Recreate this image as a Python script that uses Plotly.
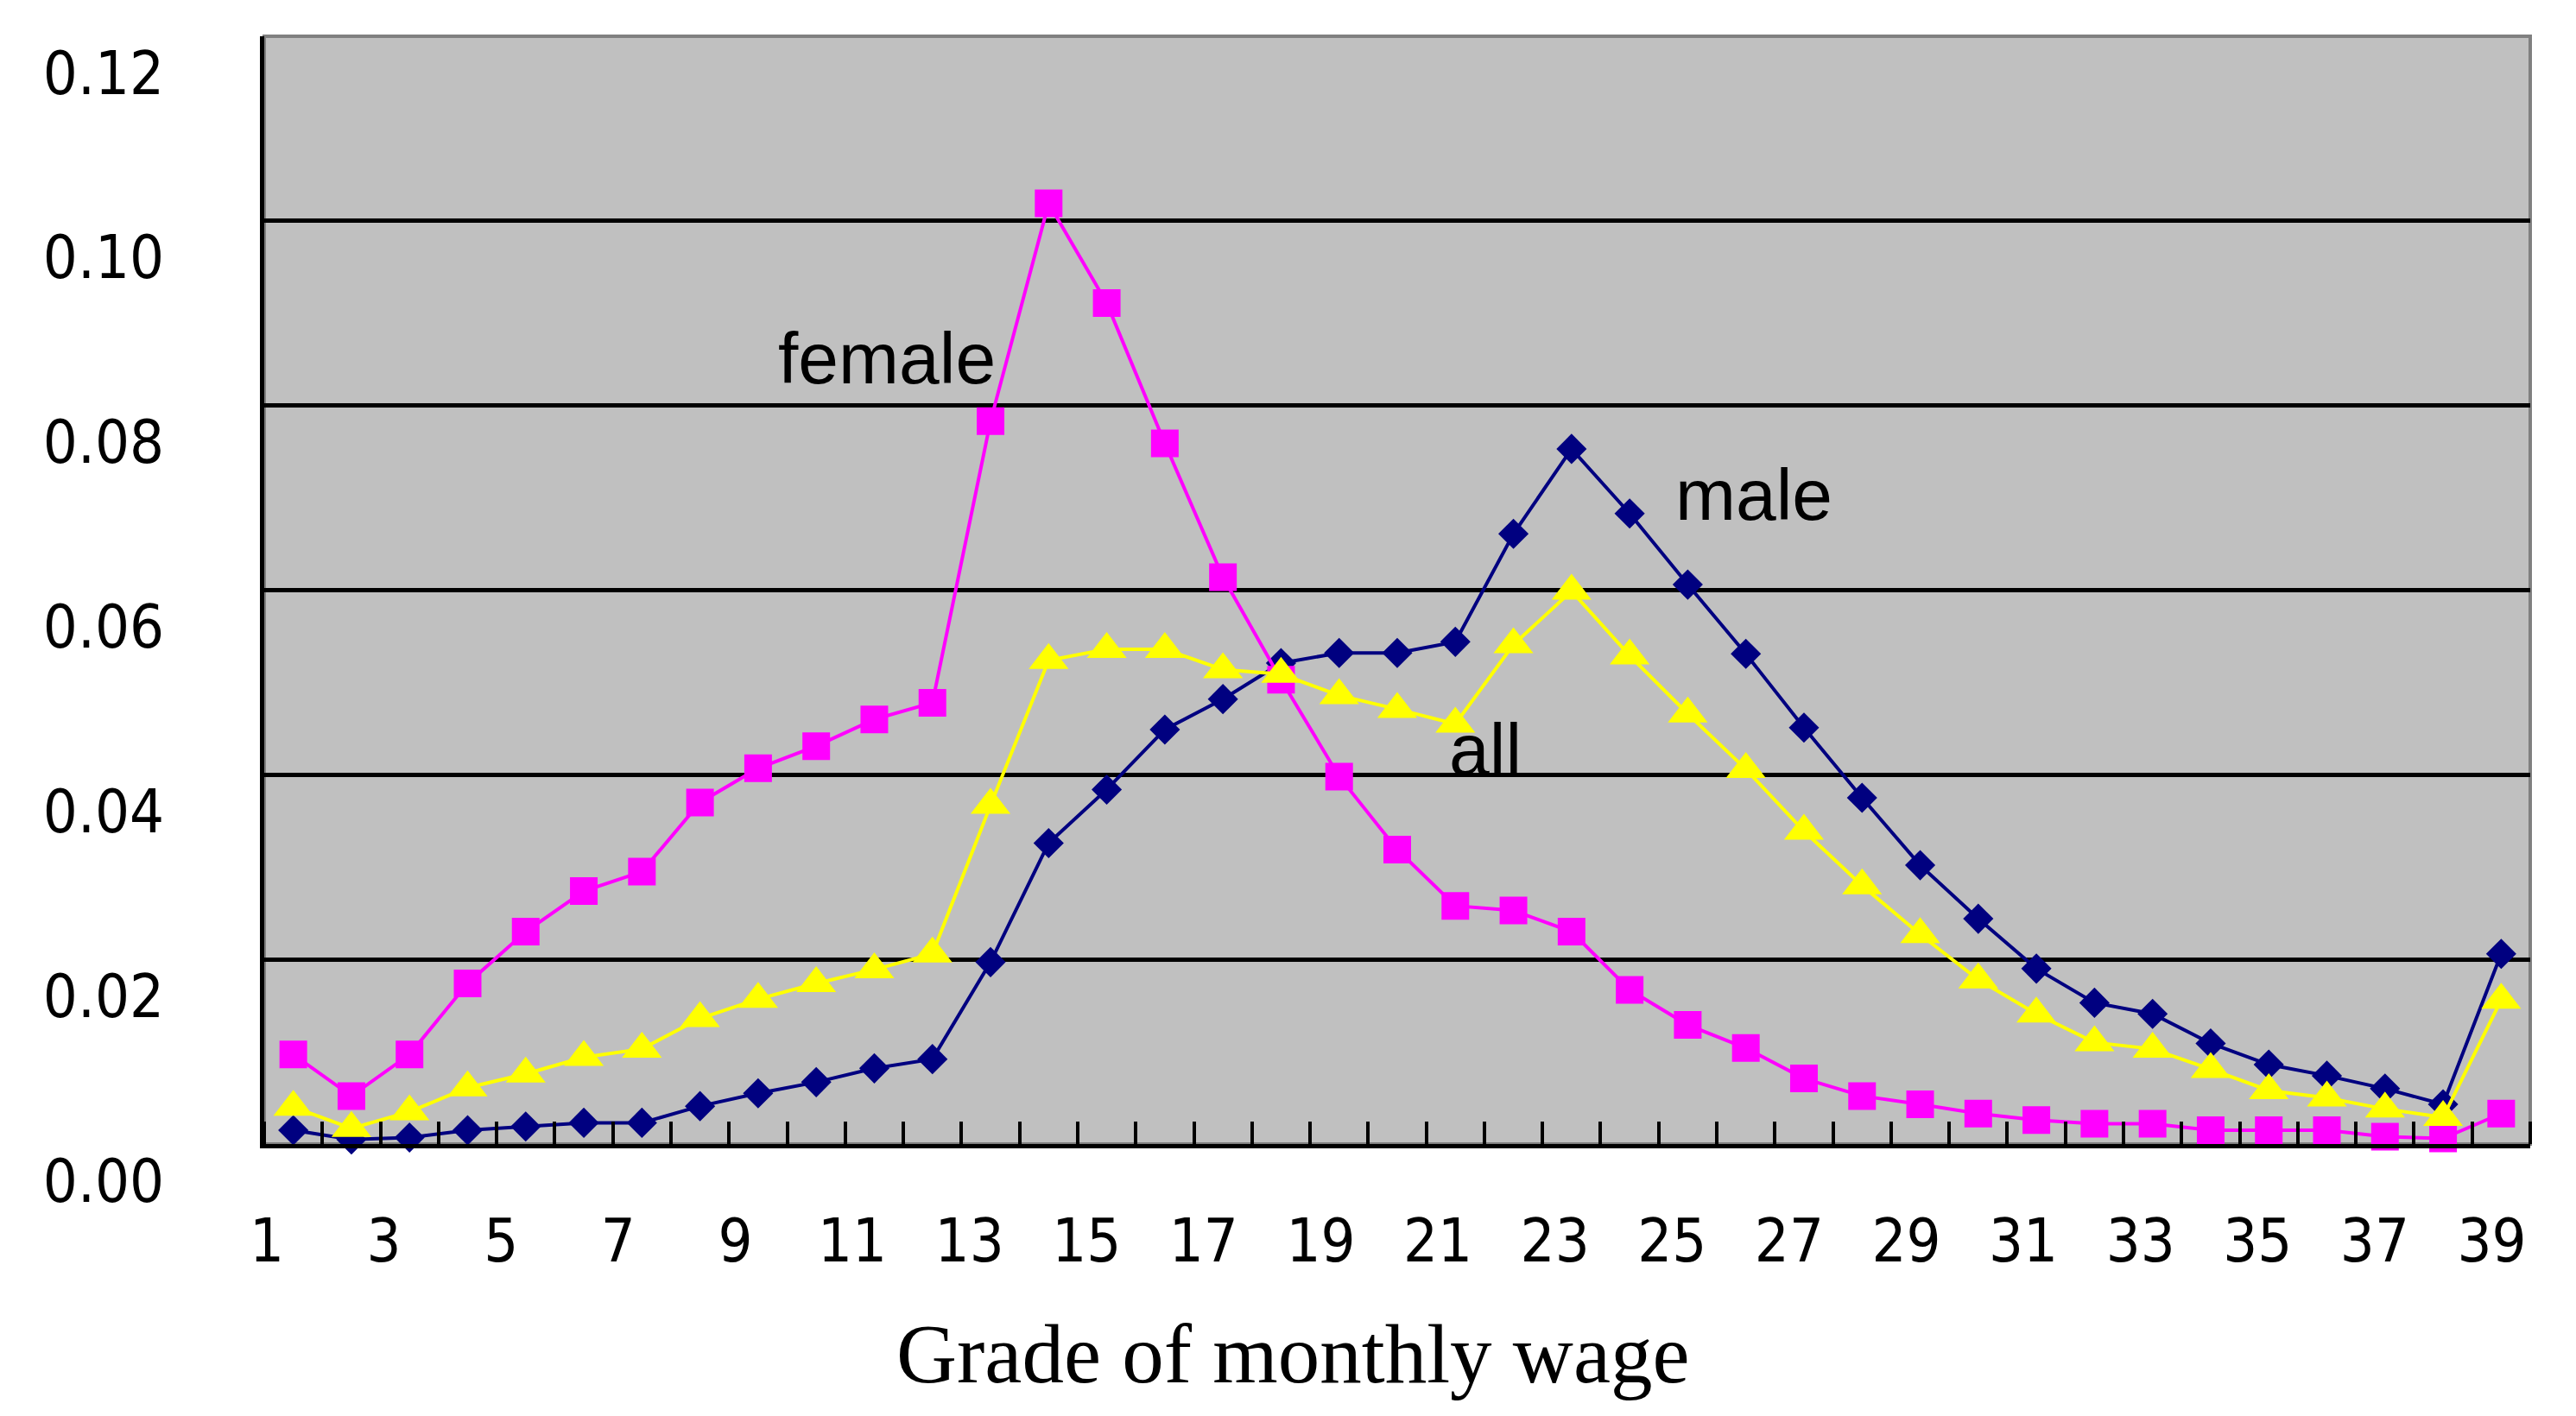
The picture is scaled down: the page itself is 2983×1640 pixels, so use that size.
import plotly.graph_objects as go

grades = list(range(1, 40))
female = [0.0097, 0.0052, 0.0097, 0.0174, 0.0230, 0.0274, 0.0295, 0.0370, 0.0407, 0.0431,
          0.0460, 0.0478, 0.0783, 0.1019, 0.0911, 0.0759, 0.0614, 0.0503, 0.0398, 0.0319,
          0.0258, 0.0253, 0.0230, 0.0167, 0.0129, 0.0104, 0.0071, 0.0052, 0.0043, 0.0033,
          0.0026, 0.0022, 0.0022, 0.0015, 0.0015, 0.0015, 0.0008, 0.0006, 0.0033]
male = [0.0015, 0.0005, 0.0007, 0.0015, 0.0019, 0.0023, 0.0023, 0.0041, 0.0055, 0.0067,
        0.0082, 0.0092, 0.0197, 0.0326, 0.0384, 0.0449, 0.0482, 0.0521, 0.0532, 0.0532,
        0.0544, 0.0661, 0.0753, 0.0683, 0.0606, 0.0531, 0.0451, 0.0375, 0.0302, 0.0244,
        0.0190, 0.0153, 0.0141, 0.0109, 0.0086, 0.0074, 0.0060, 0.0043, 0.0206]
all_ = [0.0040, 0.0017, 0.0035, 0.0061, 0.0076, 0.0094, 0.0103, 0.0136, 0.0157, 0.0174,
        0.0189, 0.0206, 0.0367, 0.0524, 0.0536, 0.0536, 0.0514, 0.0509, 0.0486, 0.0471,
        0.0455, 0.0541, 0.0599, 0.0529, 0.0466, 0.0406, 0.0339, 0.0280, 0.0227, 0.0178,
        0.0141, 0.0110, 0.0103, 0.0081, 0.0058, 0.0050, 0.0038, 0.0029, 0.0156]
x_labels = [str(k) for k in range(1, 40, 2)]
y_ticks = [0.00, 0.02, 0.04, 0.06, 0.08, 0.10, 0.12]

# the page body adds an 8px margin; size the figure so the plot lands where the original is
BODY = 8
W, H = 2983 - 2 * BODY, 1640 - 2 * BODY
L, T = 306 - BODY, 42 - BODY
pw, ph = 2624, 1283
R = W - L - pw
B = H - T - ph

def px_x(p):  # page pixel -> paper x
    return (p - BODY - L) / pw

def px_y(p):  # page pixel -> paper y
    return (T + BODY + ph - p) / ph

label_font = "Liberation Sans Narrow, DejaVu Sans Condensed, sans-serif"

fig = go.Figure()
fig.add_trace(go.Scatter(x=grades, y=male, mode="lines+markers", name="male",
                         line=dict(color="#000080", width=4),
                         marker=dict(symbol="diamond", size=27, color="#000080", line=dict(width=0)),
                         cliponaxis=False))
fig.add_trace(go.Scatter(x=grades, y=female, mode="lines+markers", name="female",
                         line=dict(color="#FF00FF", width=4),
                         marker=dict(symbol="square", size=32, color="#FF00FF", line=dict(width=0)),
                         cliponaxis=False))
fig.add_trace(go.Scatter(x=grades, y=all_, mode="lines+markers", name="all",
                         line=dict(color="#FFFF00", width=4),
                         marker=dict(symbol="triangle-up", size=40, color="#FFFF00", line=dict(width=0)),
                         cliponaxis=False))

# label positions for odd grades (slightly drifting as in the original)
label_pos = [0.5446 + 2.0155 * i for i in range(len(x_labels))]

fig.update_xaxes(range=[0.5, 39.5], showgrid=False, zeroline=False,
                 showline=True, linecolor="black", linewidth=5,
                 tickmode="array", tickvals=label_pos, ticktext=x_labels, ticks="",
                 tickfont=dict(family=label_font, size=70, color="black"),
                 ticklabelstandoff=47,
                 minor=dict(tickmode="linear", tick0=0.5, dtick=1, ticks="inside",
                            ticklen=26, tickwidth=4, tickcolor="black", showgrid=False))
fig.update_yaxes(range=[0, 0.12], tickmode="array", tickvals=y_ticks, tickformat=".2f",
                 showgrid=True, gridcolor="black", gridwidth=5, zeroline=False,
                 showline=True, linecolor="black", linewidth=5,
                 ticks="inside", ticklen=32, tickwidth=4, tickcolor="black",
                 tickfont=dict(family=label_font, size=70, color="black"),
                 ticklabelstandoff=97, ticklabelshift=42)

fig.add_shape(type="rect", xref="paper", yref="paper", x0=0, y0=0, x1=1, y1=1,
              line=dict(color="#808080", width=4), layer="below")

ann_font = dict(family="Liberation Sans, Arial, sans-serif", size=84, color="black")
fig.add_annotation(text="female", xref="paper", yref="paper", x=px_x(1027), y=px_y(415),
                   showarrow=False, font=ann_font, xanchor="center", yanchor="middle")
fig.add_annotation(text="male", xref="paper", yref="paper", x=px_x(2031), y=px_y(573),
                   showarrow=False, font=ann_font, xanchor="center", yanchor="middle")
fig.add_annotation(text="all", xref="paper", yref="paper", x=px_x(1720), y=px_y(868),
                   showarrow=False, font=ann_font, xanchor="center", yanchor="middle")
fig.add_annotation(text="Grade of monthly wage", xref="paper", yref="paper",
                   x=px_x(1497), y=px_y(1568), showarrow=False,
                   font=dict(family="Liberation Serif, Times New Roman, serif", size=97, color="black"),
                   xanchor="center", yanchor="middle")

fig.update_layout(width=W, height=H, autosize=False,
                  margin=dict(l=L, r=R, t=T, b=B, pad=0),
                  paper_bgcolor="white", plot_bgcolor="#C0C0C0",
                  showlegend=False)

fig.write_html("out.html")
